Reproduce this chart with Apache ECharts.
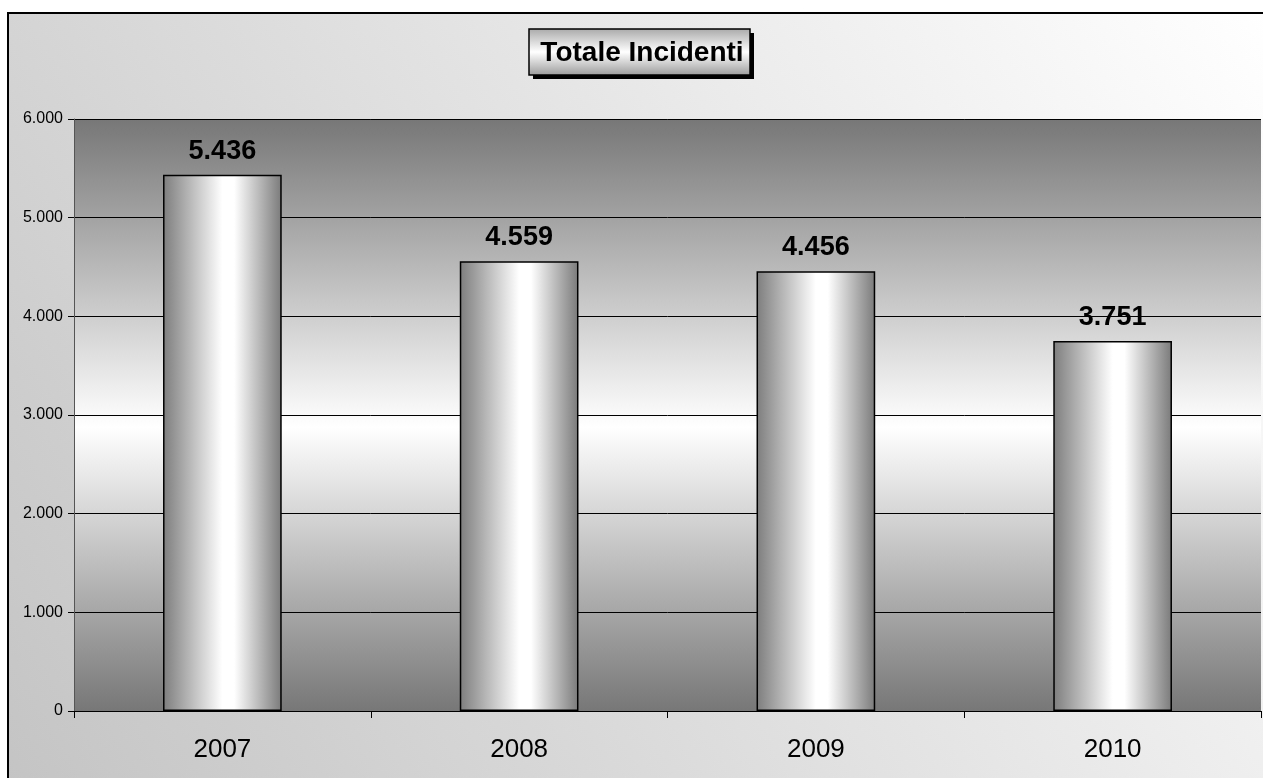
<!DOCTYPE html>
<html><head><meta charset="utf-8">
<script src="https://cdn.jsdelivr.net/npm/echarts@6/dist/echarts.min.js"></script>
<style>html,body{margin:0;padding:0;background:#fff}#c{width:1263px;height:778px}</style>
</head><body><div id="c"></div>
<script>
var categories = ['2007', '2008', '2009', '2010'];
var values = [5436, 4559, 4456, 3751];
var titleText = 'Totale Incidenti';

function fmt(v) { return String(v).replace(/\B(?=(\d{3})+(?!\d))/g, '.'); }
var G = echarts.graphic.LinearGradient;
var chart = echarts.init(document.getElementById('c'));
chart.setOption({
  animation: false,
  graphic: [{
    type: 'rect', z: -10, silent: true,
    shape: { x: 8, y: 13, width: 1262, height: 780 },
    style: { fill: new G(0, 1, 1, 0, [{offset: 0, color: '#c4c4c4'}, {offset: 1, color: '#ffffff'}]), stroke: '#000', lineWidth: 2 }
  }, {
    type: 'group', z: 10, silent: true,
    children: [{
      type: 'rect', z: 10,
      shape: { x: 533, y: 33, width: 221, height: 46 },
      style: { fill: '#000' }
    }, {
      type: 'rect', z: 11,
      shape: { x: 529, y: 29, width: 221, height: 46 },
      style: { fill: new G(0, 0, 0, 1, [{offset: 0, color: '#a8a8a8'}, {offset: 0.5, color: '#ffffff'}, {offset: 1, color: '#9a9a9a'}]), stroke: '#000', lineWidth: 1.5 }
    }, {
      type: 'text', z: 12,
      x: 642, y: 53,
      style: { text: titleText, align: 'center', verticalAlign: 'middle', fontFamily: 'Liberation Sans, Arial', fontWeight: 'bold', fontSize: 28, fill: '#000' }
    }]
  }],
  grid: {
    left: 74, right: 2, top: 119, bottom: 67, show: true, borderWidth: 0,
    backgroundColor: new G(0, 0, 0, 1, [{offset: 0, color: '#777777'}, {offset: 0.52, color: '#ffffff'}, {offset: 1, color: '#777777'}])
  },
  xAxis: {
    type: 'category', data: categories,
    axisLine: { lineStyle: { color: '#000', width: 1 } },
    axisTick: { show: true, length: 7, lineStyle: { color: '#000' } },
    axisLabel: { fontFamily: 'Liberation Sans, Arial', fontSize: 26, color: '#000', margin: 26 }
  },
  yAxis: {
    type: 'value', min: 0, max: 6000, interval: 1000,
    axisLine: { show: true, lineStyle: { color: '#555', width: 1 } },
    axisTick: { show: true, length: 6, lineStyle: { color: '#000' } },
    splitLine: { lineStyle: { color: '#000', width: 1 } },
    axisLabel: { fontFamily: 'Liberation Sans, Arial', fontSize: 16, color: '#000', margin: 11, formatter: fmt }
  },
  series: [{
    type: 'bar', data: values, barWidth: '40%',
    itemStyle: {
      color: new G(0, 0, 1, 0, [{offset: 0, color: '#7d7d7d'}, {offset: 0.5, color: '#ffffff'}, {offset: 0.6, color: '#ffffff'}, {offset: 1, color: '#7a7a7a'}]),
      borderColor: '#000', borderWidth: 1.5
    },
    label: { show: true, position: 'top', distance: 10, fontFamily: 'Liberation Sans, Arial', fontWeight: 'bold', fontSize: 27, color: '#000', formatter: function (p) { return fmt(p.value); } }
  }]
});
</script></body></html>
